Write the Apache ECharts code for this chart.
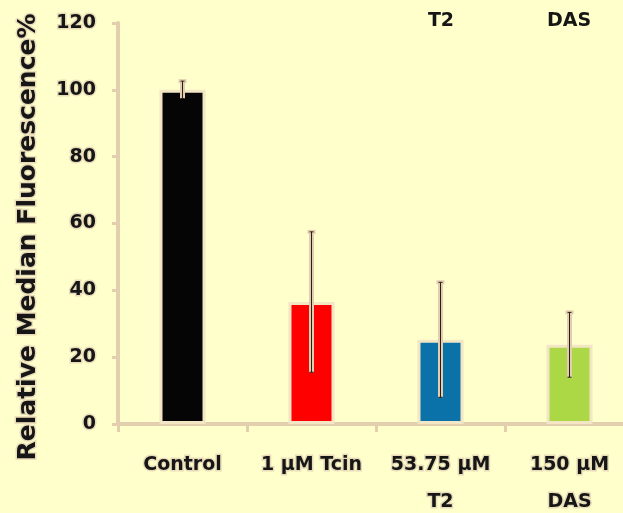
<!DOCTYPE html>
<html>
<head>
<meta charset="utf-8">
<style>
  html, body { margin: 0; padding: 0; background: #ffffcc; }
  #chart { width: 623px; height: 513px; }
</style>
<script src="https://cdn.jsdelivr.net/npm/echarts@6/dist/echarts.min.js"></script>
</head>
<body>
<div id="chart"></div>
<script>
// Treatment groups and their relative median fluorescence (mean ± SD)
const categories = ['Control', '1 µM Tcin', '53.75 µM\nT2', '150 µM\nDAS'];
const means = [100, 36.5, 25.2, 23.7];
const sds = [2.6, 21, 17.2, 9.7];
const barColors = ['#050505', '#ff0000', '#0a71a9', '#acd845'];
const yTicks = [0, 20, 40, 60, 80, 100, 120];

const FONT = '"DejaVu Sans", sans-serif';
const INK = '#161616';
const HALO = '#e9dcb8';
const AXIS = '#e3cfae';

const chart = echarts.init(document.getElementById('chart'));

const barData = means.map((v, i) => ({ value: v, itemStyle: { color: barColors[i] } }));
const errData = means.map((v, i) => [i, v - sds[i], v + sds[i]]);

chart.setOption({
  backgroundColor: '#ffffcc',
  animation: false,
  grid: { left: 118, top: 23, bottom: 89, width: 516, outerBoundsMode: 'none', containLabel: false },
  xAxis: {
    type: 'category',
    data: categories,
    axisLine: { lineStyle: { color: AXIS, width: 4 } },
    axisTick: { show: true, length: 8, lineStyle: { color: AXIS, width: 3 } },
    axisLabel: {
      interval: 0, margin: 23, color: INK, fontFamily: FONT, fontWeight: 'bold',
      fontSize: 19, lineHeight: 37, textBorderColor: HALO, textBorderWidth: 3
    }
  },
  yAxis: {
    type: 'value', min: yTicks[0], max: yTicks[yTicks.length - 1], interval: 20,
    splitLine: { show: false },
    axisLine: { show: true, lineStyle: { color: AXIS, width: 4 } },
    axisTick: { show: true, length: 6, lineStyle: { color: AXIS, width: 3 } },
    axisLabel: {
      margin: 22, color: INK, fontFamily: FONT, fontWeight: 'bold', fontSize: 19,
      textBorderColor: HALO, textBorderWidth: 3
    }
  },
  graphic: [
    {
      type: 'text', x: 28, y: 237, rotation: Math.PI / 2,
      style: {
        text: 'Relative Median Fluorescence%', align: 'center', verticalAlign: 'middle',
        fill: INK, font: 'bold 25px ' + FONT, stroke: HALO, lineWidth: 3
      }
    },
    {
      type: 'text', x: 441, y: 21,
      style: { text: 'T2', align: 'center', verticalAlign: 'middle', fill: INK, font: 'bold 19px ' + FONT }
    },
    {
      type: 'text', x: 569, y: 21,
      style: { text: 'DAS', align: 'center', verticalAlign: 'middle', fill: INK, font: 'bold 19px ' + FONT }
    }
  ],
  series: [
    {
      type: 'bar',
      data: barData,
      barWidth: 46,
      itemStyle: { borderColor: '#f3e6c4', borderWidth: 3 }
    },
    {
      type: 'custom',
      data: errData,
      z: 10,
      renderItem: function (params, api) {
        const x = api.coord([api.value(0), 0])[0];
        const lo = api.coord([api.value(0), api.value(1)])[1];
        const hi = api.coord([api.value(0), api.value(2)])[1];
        const cap = 4;
        return {
          type: 'group',
          children: [
            { type: 'line', shape: { x1: x, y1: lo, x2: x, y2: hi },
              style: { stroke: '#e2cdb0', lineWidth: 5 } },
            { type: 'line', shape: { x1: x - cap, y1: hi, x2: x + cap, y2: hi },
              style: { stroke: '#e2cdb0', lineWidth: 4 } },
            { type: 'line', shape: { x1: x, y1: lo, x2: x, y2: hi },
              style: { stroke: '#2a2018', lineWidth: 1 } },
            { type: 'line', shape: { x1: x - 2, y1: hi, x2: x + 2, y2: hi },
              style: { stroke: '#2a2018', lineWidth: 1 } },
            { type: 'line', shape: { x1: x - 2, y1: lo, x2: x + 2, y2: lo },
              style: { stroke: '#2a2018', lineWidth: 1 } }
          ]
        };
      }
    }
  ]
});
</script>
</body>
</html>
